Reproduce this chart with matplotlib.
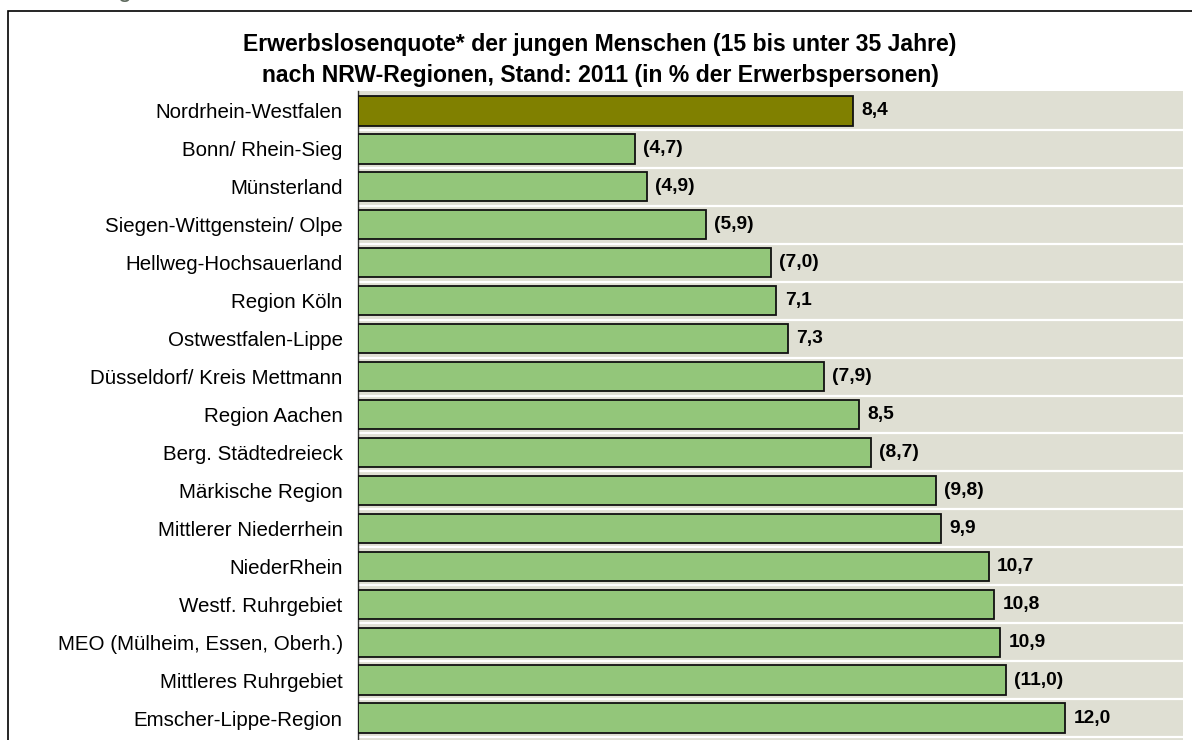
import matplotlib
matplotlib.use("Agg")
import matplotlib.pyplot as plt
from matplotlib.patches import Rectangle

regions = [
    "Nordrhein-Westfalen",
    "Bonn/ Rhein-Sieg",
    "Münsterland",
    "Siegen-Wittgenstein/ Olpe",
    "Hellweg-Hochsauerland",
    "Region Köln",
    "Ostwestfalen-Lippe",
    "Düsseldorf/ Kreis Mettmann",
    "Region Aachen",
    "Berg. Städtedreieck",
    "Märkische Region",
    "Mittlerer Niederrhein",
    "NiederRhein",
    "Westf. Ruhrgebiet",
    "MEO (Mülheim, Essen, Oberh.)",
    "Mittleres Ruhrgebiet",
    "Emscher-Lippe-Region",
]
quota = [8.4, 4.7, 4.9, 5.9, 7.0, 7.1, 7.3, 7.9, 8.5, 8.7, 9.8, 9.9, 10.7, 10.8, 10.9, 11.0, 12.0]
in_brackets = [False, True, True, True, True, False, False, True, False, True, True,
               False, False, False, False, True, False]

title = ("Erwerbslosenquote* der jungen Menschen (15 bis unter 35 Jahre)\n"
         "nach NRW-Regionen, Stand: 2011 (in % der Erwerbspersonen)")

W, H = 1192, 740
fig = plt.figure(figsize=(W / 100, H / 100), dpi=100)
fig.patch.set_facecolor("white")

# outer frame
fig.patches.append(Rectangle((8 / W, -0.05), 1.2, 1 - 11 / H + 0.05,
                             transform=fig.transFigure, fill=False,
                             edgecolor="black", linewidth=1.2))
# heading above the frame (cut off by the page edge)
fig.text(22 / W, 1 + 3 / H, "Abbildung", fontsize=18, color="#5f6b5f",
         family="Liberation Sans", va="baseline", ha="left")

ax_left, ax_right, ax_top = 358, 1183, 91
ax = fig.add_axes([ax_left / W, 0, (ax_right - ax_left) / W, 1 - ax_top / H])
ax.set_facecolor("#DFDFD3")

ypos = list(range(len(regions)))
colors = ["#808000"] + ["#93C67A"] * (len(regions) - 1)
ax.barh(ypos, quota, height=0.77, color=colors, edgecolor="#111111",
        linewidth=1.3, zorder=3)

row_px = 37.94
ytop = -0.5 - 1 / row_px
ax.set_ylim(ytop + (H - ax_top) / row_px, ytop)
ax.set_xlim(0, 14)

# white separators between rows
for b in range(len(regions)):
    ax.axhline(b + 0.5, color="white", linewidth=1.6, zorder=1)

for y, v, br in zip(ypos, quota, in_brackets):
    s = f"{v:.1f}".replace(".", ",")
    if br:
        s = f"({s})"
    ax.text(v + 0.14, y, s, va="center", ha="left", fontsize=13.8,
            fontweight="bold", family="Liberation Sans", zorder=4)

ax.set_yticks(ypos)
ax.set_yticklabels(regions, fontsize=14.8, family="Liberation Sans")
ax.tick_params(axis="y", length=0, pad=11)
ax.set_xticks([])
for side in ("top", "right", "bottom"):
    ax.spines[side].set_visible(False)
ax.spines["left"].set_color("#333333")
ax.spines["left"].set_linewidth(1.0)

fig.text(600 / W, 1 - 60 / H, title, ha="center", va="center", fontsize=16.6,
         fontweight="bold", family="Liberation Sans", linespacing=1.42)

fig.savefig("out.png", dpi=100)
